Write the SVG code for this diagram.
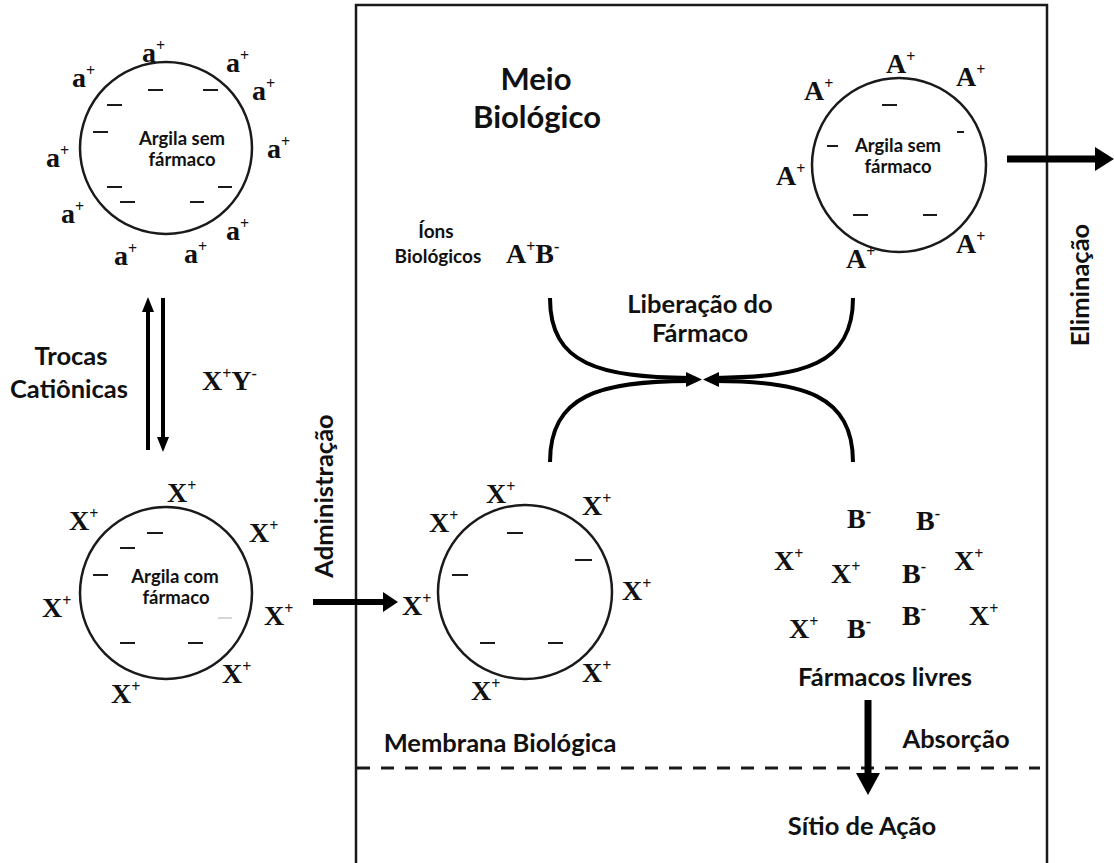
<svg xmlns="http://www.w3.org/2000/svg" width="1114" height="863" viewBox="0 0 1114 863">
  <style>
    .bg { fill: #ffffff; }
    .frame { fill: none; stroke: #1a1a1a; stroke-width: 2.5; }
    .membrane { fill: none; stroke: #1a1a1a; stroke-width: 3; stroke-dasharray: 13 11; }
    .clay { fill: none; stroke: #1a1a1a; stroke-width: 2.5; }
    .neg { stroke: #1a1a1a; stroke-width: 2; }
    .neg-faint { stroke: #c8c8c8; stroke-width: 1.5; }
    .ion { font-family: "Liberation Serif", "Times New Roman", serif; font-weight: bold; font-size: 28px; fill: #111; }
    .sup { font-size: 16px; }
    .lbl { font-family: Lato, "Open Sans", "Liberation Sans", sans-serif; font-weight: bold; fill: #111; text-anchor: middle; }
    .in { font-size: 18.5px; }
    .md { font-size: 25.5px; }
    .sm { font-size: 19px; }
    .lg { font-size: 31px; }
    .thick { fill: none; stroke: #000; stroke-width: 7; }
    .mid { fill: none; stroke: #000; stroke-width: 6; }
    .thin { fill: none; stroke: #000; stroke-width: 4; }
    .head { fill: #000; }
  </style>

  <rect class="bg" x="0" y="0" width="1114" height="863"/>

  <!-- biological medium: open-bottom frame and membrane -->
  <g id="medium">
    <path class="frame" d="M356,863 V5 H1047 V863"/>
    <line class="membrane" x1="357" y1="768" x2="1040" y2="768"/>
    <text class="lbl lg" x="536" y="90">Meio</text>
    <text class="lbl lg" x="537" y="128">Biológico</text>
    <text class="lbl md" x="500" y="752">Membrana Biológica</text>
    <text class="lbl md" x="862" y="835">Sítio de Ação</text>
  </g>

  <!-- clay without drug, loaded with a+ -->
  <g id="clay-empty-a">
    <circle class="clay" cx="166" cy="148" r="86"/>
    <line class="neg" x1="148" y1="90" x2="163" y2="90"/>
    <line class="neg" x1="203" y1="90" x2="218" y2="90"/>
    <line class="neg" x1="107" y1="105" x2="122" y2="105"/>
    <line class="neg" x1="93" y1="132" x2="108" y2="132"/>
    <line class="neg" x1="107" y1="187" x2="122" y2="187"/>
    <line class="neg" x1="120" y1="202" x2="135" y2="202"/>
    <line class="neg" x1="218" y1="187" x2="232" y2="187"/>
    <line class="neg" x1="190" y1="202" x2="204" y2="202"/>
    <text class="lbl in" x="182" y="145">Argila sem</text>
    <text class="lbl in" x="182" y="166">fármaco</text>
    <text class="ion" x="142" y="62">a<tspan class="sup" dy="-11">+</tspan></text>
    <text class="ion" x="72" y="87">a<tspan class="sup" dy="-11">+</tspan></text>
    <text class="ion" x="226" y="72">a<tspan class="sup" dy="-11">+</tspan></text>
    <text class="ion" x="252" y="100">a<tspan class="sup" dy="-11">+</tspan></text>
    <text class="ion" x="267" y="158">a<tspan class="sup" dy="-11">+</tspan></text>
    <text class="ion" x="46" y="167">a<tspan class="sup" dy="-11">+</tspan></text>
    <text class="ion" x="61" y="223">a<tspan class="sup" dy="-11">+</tspan></text>
    <text class="ion" x="226" y="240">a<tspan class="sup" dy="-11">+</tspan></text>
    <text class="ion" x="114" y="265">a<tspan class="sup" dy="-11">+</tspan></text>
    <text class="ion" x="184" y="263">a<tspan class="sup" dy="-11">+</tspan></text>
  </g>

  <!-- cation exchange labels -->
  <g id="exchange">
    <text class="lbl md" x="71" y="365">Trocas</text>
    <text class="lbl md" x="69" y="398">Catiônicas</text>
    <text class="ion" x="202" y="390">X<tspan class="sup" dy="-11">+</tspan><tspan dy="11">Y</tspan><tspan class="sup" dy="-11">-</tspan></text>
  </g>

  <!-- clay with drug, loaded with X+ -->
  <g id="clay-loaded">
    <circle class="clay" cx="166" cy="593" r="86"/>
    <line class="neg" x1="147" y1="533" x2="163" y2="533"/>
    <line class="neg" x1="120" y1="548" x2="135" y2="548"/>
    <line class="neg" x1="93" y1="575" x2="108" y2="575"/>
    <line class="neg" x1="120" y1="643" x2="135" y2="643"/>
    <line class="neg" x1="188" y1="643" x2="203" y2="643"/>
    <line class="neg-faint" x1="218" y1="618" x2="232" y2="618"/>
    <text class="lbl in" x="175" y="583">Argila com</text>
    <text class="lbl in" x="176" y="604">fármaco</text>
    <text class="ion" x="167" y="502">X<tspan class="sup" dy="-11">+</tspan></text>
    <text class="ion" x="69" y="530">X<tspan class="sup" dy="-11">+</tspan></text>
    <text class="ion" x="249" y="542">X<tspan class="sup" dy="-11">+</tspan></text>
    <text class="ion" x="42" y="617">X<tspan class="sup" dy="-11">+</tspan></text>
    <text class="ion" x="264" y="625">X<tspan class="sup" dy="-11">+</tspan></text>
    <text class="ion" x="222" y="683">X<tspan class="sup" dy="-11">+</tspan></text>
    <text class="ion" x="111" y="703">X<tspan class="sup" dy="-11">+</tspan></text>
  </g>

  <!-- administered clay inside the medium -->
  <g id="clay-administered">
    <circle class="clay" cx="525" cy="592" r="87"/>
    <line class="neg" x1="507" y1="533" x2="523" y2="533"/>
    <line class="neg" x1="575" y1="560" x2="592" y2="560"/>
    <line class="neg" x1="452" y1="575" x2="468" y2="575"/>
    <line class="neg" x1="480" y1="643" x2="495" y2="643"/>
    <line class="neg" x1="548" y1="643" x2="563" y2="643"/>
    <text class="ion" x="486" y="503">X<tspan class="sup" dy="-11">+</tspan></text>
    <text class="ion" x="429" y="532">X<tspan class="sup" dy="-11">+</tspan></text>
    <text class="ion" x="582" y="515">X<tspan class="sup" dy="-11">+</tspan></text>
    <text class="ion" x="402" y="615">X<tspan class="sup" dy="-11">+</tspan></text>
    <text class="ion" x="622" y="600">X<tspan class="sup" dy="-11">+</tspan></text>
    <text class="ion" x="582" y="682">X<tspan class="sup" dy="-11">+</tspan></text>
    <text class="ion" x="471" y="700">X<tspan class="sup" dy="-11">+</tspan></text>
  </g>

  <!-- biological ions -->
  <g id="bio-ions">
    <text class="lbl sm" x="436" y="238">Íons</text>
    <text class="lbl sm" x="438" y="263">Biológicos</text>
    <text class="ion" x="506" y="263">A<tspan class="sup" dy="-11">+</tspan><tspan dy="11">B</tspan><tspan class="sup" dy="-11">-</tspan></text>
  </g>

  <!-- clay without drug, loaded with A+ -->
  <g id="clay-empty-A">
    <circle class="clay" cx="899" cy="165" r="87"/>
    <line class="neg" x1="882" y1="105" x2="897" y2="105"/>
    <line class="neg" x1="957" y1="132" x2="964" y2="132"/>
    <line class="neg" x1="827" y1="146" x2="838" y2="146"/>
    <line class="neg" x1="853" y1="215" x2="868" y2="215"/>
    <line class="neg" x1="923" y1="215" x2="937" y2="215"/>
    <text class="lbl in" x="898" y="152">Argila sem</text>
    <text class="lbl in" x="898" y="173">fármaco</text>
    <text class="ion" x="886" y="73">A<tspan class="sup" dy="-11">+</tspan></text>
    <text class="ion" x="804" y="100">A<tspan class="sup" dy="-11">+</tspan></text>
    <text class="ion" x="956" y="86">A<tspan class="sup" dy="-11">+</tspan></text>
    <text class="ion" x="776" y="185">A<tspan class="sup" dy="-11">+</tspan></text>
    <text class="ion" x="956" y="253">A<tspan class="sup" dy="-11">+</tspan></text>
    <text class="ion" x="846" y="268">A<tspan class="sup" dy="-11">+</tspan></text>
  </g>

  <!-- free drug ions -->
  <g id="free-drugs">
    <text class="ion" x="847" y="528">B<tspan class="sup" dy="-11">-</tspan></text>
    <text class="ion" x="916" y="530">B<tspan class="sup" dy="-11">-</tspan></text>
    <text class="ion" x="902" y="583">B<tspan class="sup" dy="-11">-</tspan></text>
    <text class="ion" x="902" y="625">B<tspan class="sup" dy="-11">-</tspan></text>
    <text class="ion" x="847" y="638">B<tspan class="sup" dy="-11">-</tspan></text>
    <text class="ion" x="774" y="570">X<tspan class="sup" dy="-11">+</tspan></text>
    <text class="ion" x="831" y="583">X<tspan class="sup" dy="-11">+</tspan></text>
    <text class="ion" x="954" y="570">X<tspan class="sup" dy="-11">+</tspan></text>
    <text class="ion" x="789" y="638">X<tspan class="sup" dy="-11">+</tspan></text>
    <text class="ion" x="969" y="625">X<tspan class="sup" dy="-11">+</tspan></text>
    <text class="lbl md" x="885" y="686">Fármacos livres</text>
  </g>

  <!-- process arrows -->
  <g id="connectors">
    <!-- cation exchange (reversible) -->
    <line class="thin" x1="148" y1="450" x2="148" y2="310"/>
    <polygon class="head" points="142,312 148,297 154,312"/>
    <line class="thin" x1="163" y1="298" x2="163" y2="438"/>
    <polygon class="head" points="157,437 163,452 169,437"/>

    <!-- administration -->
    <line class="mid" x1="313" y1="602" x2="385" y2="602"/>
    <polygon class="head" points="383,592 398,602 383,612"/>

    <!-- drug release -->
    <path class="thin" d="M550,298 C550,365 600,377 690,378"/>
    <path class="thin" d="M550,462 C550,395 600,381 690,381"/>
    <path class="thin" d="M853,298 C853,365 803,377 715,378"/>
    <path class="thin" d="M853,462 C853,395 803,381 715,381"/>
    <polygon class="head" points="686,372 702,379.5 686,387"/>
    <polygon class="head" points="719,372 703,379.5 719,387"/>

    <!-- elimination -->
    <line class="thick" x1="1007" y1="159" x2="1097" y2="159"/>
    <polygon class="head" points="1095,147 1114,159 1095,171"/>

    <!-- absorption -->
    <line class="thick" x1="868" y1="700" x2="868" y2="775"/>
    <polygon class="head" points="856,773 868,795 880,773"/>
  </g>

  <!-- process labels -->
  <g id="process-labels">
    <text class="lbl md" x="700" y="313">Liberação do</text>
    <text class="lbl md" x="700" y="342">Fármaco</text>
    <text class="lbl md" transform="translate(333,496) rotate(-90)">Administração</text>
    <text class="lbl md" transform="translate(1089,285) rotate(-90)">Eliminação</text>
    <text class="lbl md" x="956" y="748">Absorção</text>
  </g>
</svg>
